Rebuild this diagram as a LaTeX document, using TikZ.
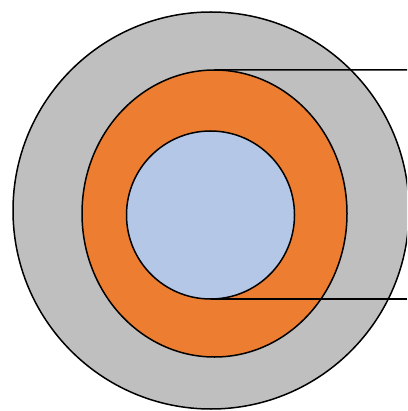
\documentclass[tikz,border=0pt]{standalone}
\usetikzlibrary{shapes.geometric}
\definecolor{ringgray}{RGB}{191,191,191}
\definecolor{ringorange}{RGB}{237,125,49}
\definecolor{coreblue}{RGB}{180,199,231}
\begin{document}
\begin{tikzpicture}[x=1pt,y=-1pt,
  ring/.style={draw=black,line width=1.5pt,inner sep=0pt,outer sep=0pt},
  leader/.style={draw=black,line width=1.5pt}]
\useasboundingbox (0,0) rectangle (407,411);
\clip (0,0) rectangle (407,411);
\node[ring,ellipse,fill=ringgray,minimum width=396pt,minimum height=397pt] (outer) at (211,210.5) {};
\node[ring,ellipse,fill=ringorange,minimum width=265pt,minimum height=287pt] (mid) at (214.5,213.5) {};
\node[ring,circle,fill=coreblue,minimum size=168pt] (core) at (210.5,215) {};
\coordinate (topend) at (407,69.8);
\coordinate (botend) at (407,299);
\draw[leader] (mid.north) -- (topend);
\draw[leader] (core.south) -- (botend);
\end{tikzpicture}
\end{document}
